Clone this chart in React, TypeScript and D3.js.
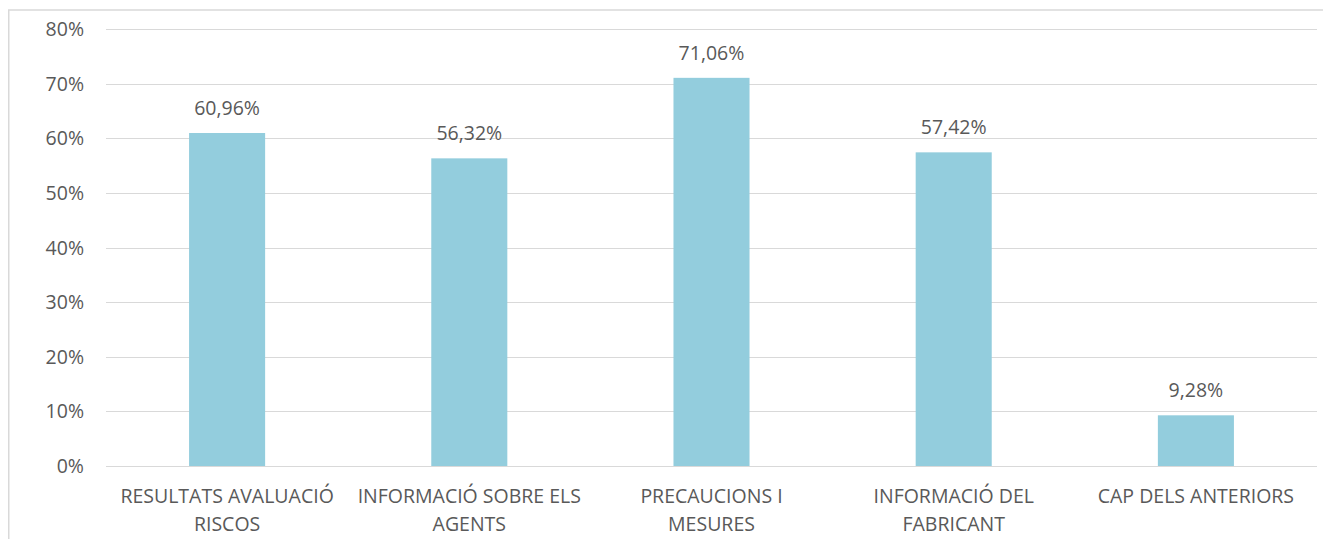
import React, { useEffect, useRef } from 'react';
import * as d3 from 'd3';

// categories (already split into the lines they wrap into)
const categories = [
    ["RESULTATS AVALUACIÓ", "RISCOS"],
    ["INFORMACIÓ SOBRE ELS", "AGENTS"],
    ["PRECAUCIONS I", "MESURES"],
    ["INFORMACIÓ DEL", "FABRICANT"],
    ["CAP DELS ANTERIORS"]
];
const values = [0.6096, 0.5632, 0.7106, 0.5742, 0.0928];
const yTicks = [0, 0.1, 0.2, 0.3, 0.4, 0.5, 0.6, 0.7, 0.8];

const App = () => {
    const ref = useRef(null);

    const width = 1315;
    const height = 531;
    const margin = { left: 98, right: 6, top: 21, bottom: 73 };
    const font = "'Open Sans', sans-serif";
    const textColor = "#595959";

    useEffect(() => {
        const svg = d3.select(ref.current);
        svg.selectAll("*").remove();

        // outer chart border (only left and top fall in view)
        svg.append("rect")
           .attr("x", 0.75)
           .attr("y", 2)
           .attr("width", width + 20)
           .attr("height", height + 20)
           .style("fill", "none")
           .style("stroke", "#d9d9d9")
           .style("stroke-width", 1.5);

        const xScale = d3.scaleBand()
                         .domain(d3.range(values.length).map(String))
                         .range([margin.left, width - margin.right])
                         .paddingInner(0.686)
                         .paddingOuter(0.343);

        const yScale = d3.scaleLinear()
                         .domain([0, 0.8])
                         .range([height - margin.bottom, margin.top]);

        // gridlines
        svg.append("g")
           .selectAll("line")
           .data(yTicks)
           .join("line")
           .attr("x1", margin.left)
           .attr("x2", width - margin.right)
           .attr("y1", d => Math.round(yScale(d)) + 0.5)
           .attr("y2", d => Math.round(yScale(d)) + 0.5)
           .style("stroke", "#d9d9d9")
           .style("stroke-width", 1);

        // y tick labels
        svg.append("g")
           .selectAll("text")
           .data(yTicks)
           .join("text")
           .attr("x", 76)
           .attr("y", d => yScale(d))
           .attr("dy", "0.36em")
           .attr("text-anchor", "end")
           .style("font-family", font)
           .style("font-size", "19.5px")
           .style("fill", textColor)
           .text(d => d3.format(".0%")(d));

        // bars
        svg.append("g")
           .selectAll("rect")
           .data(values)
           .join("rect")
           .attr("x", (d, i) => xScale(String(i)))
           .attr("y", d => yScale(d))
           .attr("width", xScale.bandwidth())
           .attr("height", d => yScale(0) - yScale(d))
           .style("fill", "#93cddd");

        // value labels
        svg.append("g")
           .selectAll("text")
           .data(values)
           .join("text")
           .attr("x", (d, i) => xScale(String(i)) + xScale.bandwidth() / 2)
           .attr("y", d => yScale(d) - 18)
           .attr("text-anchor", "middle")
           .style("font-family", font)
           .style("font-size", "19.5px")
           .style("fill", textColor)
           .text(d => (d * 100).toFixed(2).replace(".", ",") + "%");

        // category labels
        const catG = svg.append("g")
                        .selectAll("text")
                        .data(categories)
                        .join("text")
                        .attr("text-anchor", "middle")
                        .style("font-family", font)
                        .style("font-size", "19.5px")
                        .style("fill", textColor);

        catG.each(function (lines, i) {
            const cx = xScale(String(i)) + xScale.bandwidth() / 2;
            d3.select(this)
              .selectAll("tspan")
              .data(lines)
              .join("tspan")
              .attr("x", cx)
              .attr("y", (l, j) => yScale(0) + 37 + j * 28)
              .text(l => l);
        });
    }, []);

    return (
        <div>
            <svg ref={ref} width={width} height={height} style={{ display: "block" }}></svg>
        </div>
    );
};

export default App;
